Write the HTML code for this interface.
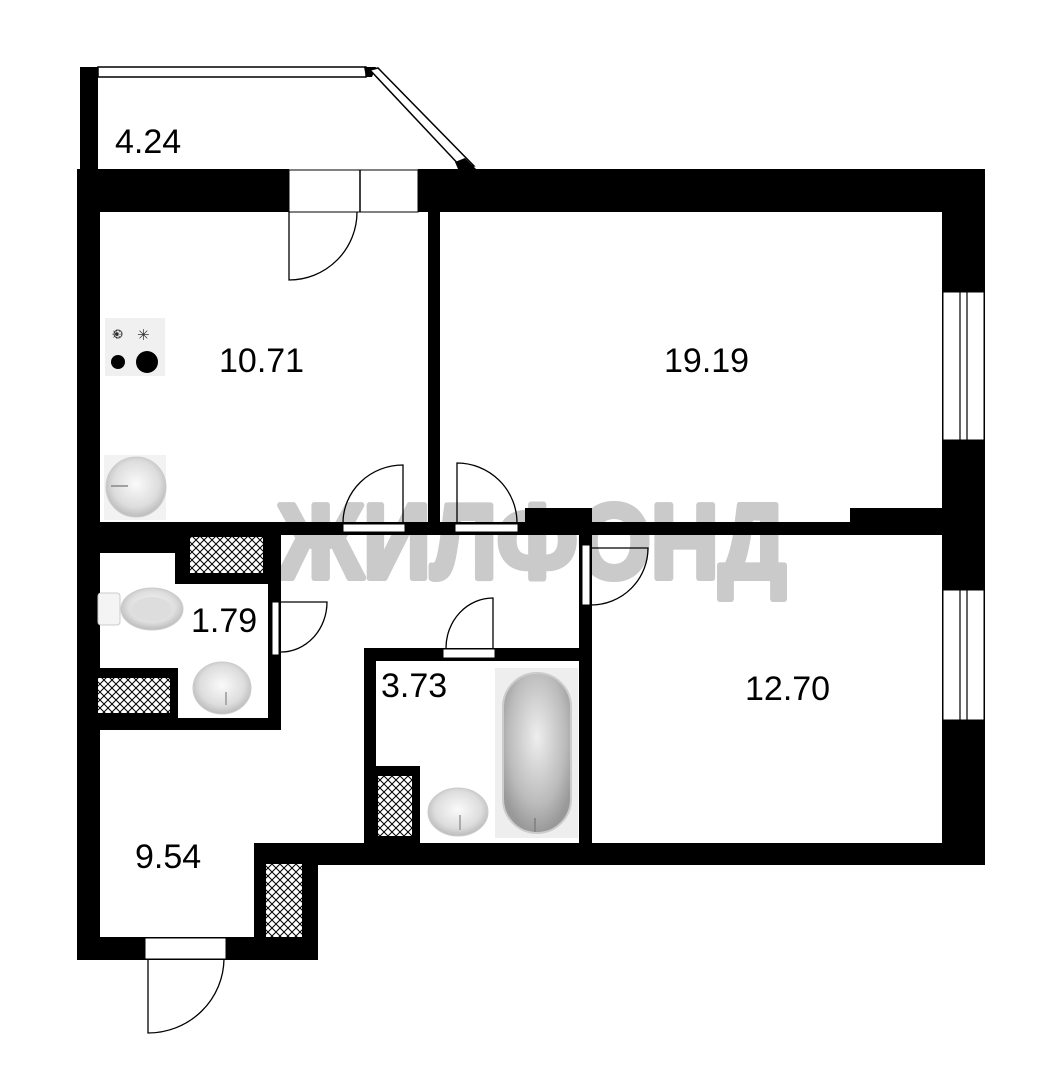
<!DOCTYPE html>
<html><head><meta charset="utf-8"><style>
html,body{margin:0;padding:0;background:#fff;}
svg{display:block;}
text{font-family:"Liberation Sans","DejaVu Sans",sans-serif;}
</style></head><body>
<svg width="1057" height="1080" viewBox="0 0 1057 1080" xmlns="http://www.w3.org/2000/svg">
<defs>
<pattern id="h" width="8" height="8" patternUnits="userSpaceOnUse">
<rect width="8" height="8" fill="#fff"/>
<path d="M0 0L8 8M8 0L0 8" stroke="#000" stroke-width="1"/>
</pattern>
<radialGradient id="sg" cx="50%" cy="45%" r="55%"><stop offset="0" stop-color="#fafafa"/><stop offset="0.7" stop-color="#ddd"/><stop offset="1" stop-color="#bbb"/></radialGradient>
<radialGradient id="bg" cx="50%" cy="40%" r="60%"><stop offset="0" stop-color="#eee"/><stop offset="0.7" stop-color="#bbb"/><stop offset="1" stop-color="#999"/></radialGradient>
</defs>
<rect width="1057" height="1080" fill="#fff"/>

<!-- watermark -->
<text x="278" y="578" font-size="106" font-weight="bold" fill="#cacaca" stroke="#cacaca" stroke-width="6" stroke-linejoin="round" textLength="508" lengthAdjust="spacingAndGlyphs">ЖИЛФОНД</text>

<!-- balcony -->
<rect x="80" y="67" width="18" height="103" fill="#000"/>
<rect x="98" y="67" width="268" height="10" fill="#fff" stroke="#000" stroke-width="1.5"/>
<polygon points="364,67 376,67 372,77 366,77" fill="#000"/>
<polygon points="370,70 378,68 474,166 462,168" fill="#fff" stroke="#000" stroke-width="1.5"/>
<polygon points="455,162 465,158 476,169 458,169" fill="#000"/>

<!-- top wall -->
<rect x="77" y="169" width="212" height="43" fill="#000"/>
<rect x="418" y="169" width="567" height="43" fill="#000"/>
<rect x="289" y="170" width="129" height="42" fill="#fff" stroke="#000" stroke-width="1"/>
<line x1="360" y1="170" x2="360" y2="212" stroke="#000" stroke-width="1.5"/>
<path d="M289 212V280A68 68 0 0 0 357 212" fill="none" stroke="#000" stroke-width="1.3"/>

<!-- left wall -->
<rect x="77" y="169" width="23" height="791" fill="#000"/>
<!-- right wall -->
<rect x="942" y="169" width="43" height="695" fill="#000"/>
<rect x="943" y="292" width="41" height="148" fill="#fff" stroke="#000" stroke-width="1"/>
<line x1="960" y1="292" x2="960" y2="440" stroke="#000" stroke-width="1.2"/>
<line x1="967" y1="292" x2="967" y2="440" stroke="#000" stroke-width="1.2"/>
<rect x="943" y="590" width="41" height="130" fill="#fff" stroke="#000" stroke-width="1"/>
<line x1="960" y1="590" x2="960" y2="720" stroke="#000" stroke-width="1.2"/>
<line x1="967" y1="590" x2="967" y2="720" stroke="#000" stroke-width="1.2"/>

<!-- kitchen / 19.19 partition -->
<rect x="428" y="212" width="12" height="322" fill="#000"/>
<!-- horizontal wall y 522-535 -->
<rect x="100" y="522" width="842" height="13" fill="#000"/>
<rect x="525" y="508" width="67" height="27" fill="#000"/>
<rect x="850" y="508" width="92" height="14" fill="#000"/>
<!-- doors kitchen -->
<rect x="343" y="524" width="62" height="8" fill="#fff" stroke="#000" stroke-width="1"/>
<path d="M403 523V465A60 58 0 0 0 343 523" fill="none" stroke="#000" stroke-width="1.3"/>
<rect x="455" y="524" width="63" height="8" fill="#fff" stroke="#000" stroke-width="1"/>
<path d="M457 523V463A60 60 0 0 1 517 523" fill="none" stroke="#000" stroke-width="1.3"/>

<!-- toilet room -->
<rect x="100" y="535" width="181" height="18" fill="#000"/>
<rect x="175" y="535" width="106" height="49" fill="#000"/>
<rect x="190" y="537" width="73" height="36" fill="url(#h)"/>
<rect x="268" y="535" width="13" height="195" fill="#000"/>
<rect x="100" y="718" width="181" height="12" fill="#000"/>
<rect x="100" y="668" width="78" height="62" fill="#000"/>
<rect x="98" y="678" width="72" height="35" fill="url(#h)"/>
<rect x="272" y="602" width="7" height="53" fill="#fff" stroke="#000" stroke-width="1"/>
<path d="M281 602H327A46 50 0 0 1 281 652" fill="none" stroke="#000" stroke-width="1.3"/>
<!-- toilet -->
<rect x="98" y="593" width="22" height="32" rx="3" fill="#f4f4f4" stroke="#ccc"/>
<ellipse cx="152" cy="609" rx="31" ry="21" fill="url(#sg)" stroke="#ccc"/>
<ellipse cx="152" cy="609" rx="20" ry="12" fill="#ddd"/>
<!-- sink -->
<ellipse cx="222" cy="688" rx="29" ry="26" fill="url(#sg)" stroke="#ccc"/>
<line x1="226" y1="692" x2="226" y2="705" stroke="#999" stroke-width="1.5"/>

<!-- bath room -->
<rect x="364" y="648" width="228" height="13" fill="#000"/>
<rect x="364" y="648" width="12" height="200" fill="#000"/>
<rect x="579" y="535" width="13" height="315" fill="#000"/>
<rect x="443" y="649" width="52" height="9" fill="#fff" stroke="#000" stroke-width="1"/>
<path d="M493 648V598A47 50 0 0 0 446 648" fill="none" stroke="#000" stroke-width="1.3"/>
<rect x="364" y="766" width="56" height="80" fill="#000"/>
<rect x="378" y="776" width="34" height="60" fill="url(#h)"/>
<ellipse cx="458" cy="812" rx="30" ry="24" fill="url(#sg)" stroke="#ccc"/>
<line x1="460" y1="815" x2="460" y2="830" stroke="#999" stroke-width="1.5"/>
<rect x="495" y="668" width="83" height="170" fill="#eee"/>
<rect x="503" y="673" width="68" height="160" rx="34" fill="url(#bg)" stroke="#ccc" stroke-width="2"/>
<line x1="535" y1="818" x2="535" y2="832" stroke="#888" stroke-width="2"/>

<!-- 12.70 door -->
<rect x="582" y="545" width="8" height="60" fill="#fff" stroke="#000" stroke-width="1"/>
<path d="M591 548H648A57 57 0 0 1 591 605" fill="none" stroke="#000" stroke-width="1.3"/>

<!-- bottom wall -->
<rect x="254" y="843" width="731" height="22" fill="#000"/>
<rect x="254" y="843" width="64" height="117" fill="#000"/>
<rect x="266" y="864" width="36" height="76" fill="url(#h)"/>
<rect x="77" y="937" width="241" height="23" fill="#000"/>
<rect x="145" y="938" width="81" height="21" fill="#fff" stroke="#000" stroke-width="1"/>
<path d="M148 959V1033A76 75 0 0 0 224 959" fill="none" stroke="#000" stroke-width="1.3"/>

<!-- stove -->
<rect x="105" y="318" width="60" height="58" fill="#f0f0f0"/>
<circle cx="118" cy="334" r="4" fill="none" stroke="#333"/>
<text x="111" y="339" font-size="13" fill="#333">☀</text>
<text x="137" y="340" font-size="15" fill="#333">✳</text>
<circle cx="118" cy="362" r="7" fill="#000"/>
<circle cx="147" cy="362" r="11" fill="#000"/>
<!-- kitchen sink -->
<rect x="104" y="455" width="62" height="65" fill="#f2f2f2"/>
<ellipse cx="136" cy="487" rx="30" ry="30" fill="url(#sg)" stroke="#ccc"/>
<line x1="111" y1="486" x2="128" y2="486" stroke="#888" stroke-width="1.5"/>

<!-- labels -->
<g font-size="34" fill="#000">
<text x="115" y="153">4.24</text>
<text x="219" y="372">10.71</text>
<text x="664" y="372">19.19</text>
<text x="745" y="700">12.70</text>
<text x="191" y="632">1.79</text>
<text x="381" y="697">3.73</text>
<text x="135" y="868">9.54</text>
</g>
</svg>
</body></html>
